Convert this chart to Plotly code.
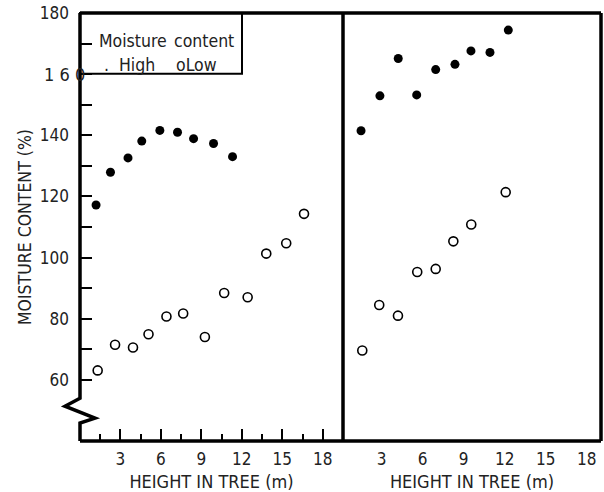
import plotly.graph_objects as go

# ---- data ----
left_high_x = [1.19, 2.26, 3.56, 4.58, 5.92, 7.23, 8.42, 9.90, 11.31]
left_high_y = [117.2, 127.9, 132.6, 138.1, 141.6, 141.0, 138.9, 137.3, 133.0]

left_low_x = [1.31, 2.60, 3.93, 5.08, 6.41, 7.65, 9.26, 10.69, 12.43, 13.81, 15.29, 16.61]
left_low_y = [63.1, 71.5, 70.6, 74.9, 80.7, 81.7, 74.0, 88.4, 87.0, 101.3, 104.7, 114.3]

right_high_x = [1.49, 2.87, 4.21, 5.56, 6.95, 8.36, 9.53, 10.92, 12.26]
right_high_y = [141.5, 152.9, 165.1, 153.2, 161.5, 163.2, 167.6, 167.1, 174.4]

right_low_x = [1.58, 2.82, 4.19, 5.60, 6.95, 8.24, 9.55, 12.07]
right_low_y = [69.6, 84.5, 81.0, 95.3, 96.3, 105.3, 110.8, 121.4]

x_tick_vals = [3, 6, 9, 12, 15, 18]
x_tick_text = ["3", "6", "9", "12", "15", "18"]
x_minor_vals = [1.5, 4.5, 7.5, 10.5, 13.5, 16.5]
y_tick_vals = [60, 70, 80, 90, 100, 110, 120, 130, 140, 150, 160, 170, 180]
y_tick_text = ["60", "", "80", "", "100", "", "120", "", "140", "", "", "", "180"]

FONT = "DejaVu Sans Condensed, Liberation Sans Narrow, Arial Narrow, sans-serif"
TXT = "#222222"

fig = go.Figure()

filled = dict(symbol="circle", size=9, color="black")
opened = dict(symbol="circle-open", size=9, color="black", line=dict(width=1.6, color="black"))

fig.add_trace(go.Scatter(x=left_high_x, y=left_high_y, mode="markers", marker=filled,
                         xaxis="x", yaxis="y", showlegend=False))
fig.add_trace(go.Scatter(x=left_low_x, y=left_low_y, mode="markers", marker=opened,
                         xaxis="x", yaxis="y", showlegend=False))
fig.add_trace(go.Scatter(x=right_high_x, y=right_high_y, mode="markers", marker=filled,
                         xaxis="x2", yaxis="y2", showlegend=False))
fig.add_trace(go.Scatter(x=right_low_x, y=right_low_y, mode="markers", marker=opened,
                         xaxis="x2", yaxis="y2", showlegend=False))

split = 263 / 521

fig.update_layout(
    width=604, height=492,
    margin=dict(l=80, r=3, t=11, b=51),
    paper_bgcolor="white", plot_bgcolor="white",
    font=dict(family=FONT, color=TXT, size=17),
    xaxis=dict(domain=[0, split], range=[0, 19.5], showgrid=False, zeroline=False,
               showline=False, tickmode="array", tickvals=x_tick_vals, ticktext=x_tick_text,
               ticks="inside", ticklen=12, tickwidth=2, tickcolor="black",
               ticklabelstandoff=6,
               minor=dict(tickmode="array", tickvals=x_minor_vals, ticks="inside",
                          ticklen=7, tickwidth=2, tickcolor="black"),
               title=dict(text="HEIGHT IN TREE (m)", font=dict(size=18, color=TXT), standoff=7)),
    xaxis2=dict(domain=[split, 1], range=[0.17, 19.04], showgrid=False, zeroline=False,
                showline=False, tickmode="array", tickvals=x_tick_vals, ticktext=x_tick_text,
                ticks="", ticklabelstandoff=6, anchor="y2",
                title=dict(text="HEIGHT IN TREE (m)", font=dict(size=18, color=TXT), standoff=7)),
    yaxis=dict(range=[40, 180], showgrid=False, zeroline=False, showline=False,
               tickmode="array", tickvals=y_tick_vals, ticktext=y_tick_text,
               ticks="inside", ticklen=12, tickwidth=2, tickcolor="black",
               ticklabelstandoff=10,
               title=dict(text="MOISTURE CONTENT (%)", font=dict(size=17.5, color=TXT), standoff=3)),
    yaxis2=dict(range=[40, 180], showgrid=False, zeroline=False, showline=False,
                showticklabels=False, ticks="", anchor="x2"),
)

# "1 6 0" label as printed in the original (spaced, overlapping the axis)
fig.add_annotation(x=-38 / 521, y=160, xref="paper", yref="y", xanchor="left", yanchor="middle",
                   text="1\u00a06\u00a00", showarrow=False, font=dict(size=18, color=TXT))

# frame lines
line_k = dict(color="black", width=3.5)
fig.add_shape(type="line", xref="paper", yref="paper", x0=0, x1=1, y0=1, y1=1, line=line_k)
fig.add_shape(type="line", xref="paper", yref="paper", x0=1, x1=1, y0=0, y1=1, line=line_k)
fig.add_shape(type="line", xref="paper", yref="paper", x0=0, x1=1, y0=0, y1=0, line=line_k)
fig.add_shape(type="line", xref="paper", yref="paper", x0=split, x1=split, y0=0, y1=1, line=line_k)
# left axis with break symbol
fig.add_shape(type="path", xref="paper", yref="paper",
              path="M 0,1 L 0,0.1 L -0.0288,0.0814 L 0.0288,0.0535 L 0,0.0419 L 0,0",
              line=line_k)

# legend box
fig.add_shape(type="rect", xref="paper", yref="paper", x0=0, x1=162 / 521, y0=369 / 430, y1=1,
              line=dict(color="black", width=2))
fig.add_annotation(x=17 / 521, y=414 / 430, xref="paper", yref="paper", xanchor="left",
                   text="Moisture", showarrow=False, font=dict(size=17.5, color=TXT))
fig.add_annotation(x=92 / 521, y=414 / 430, xref="paper", yref="paper", xanchor="left",
                   text="content", showarrow=False, font=dict(size=17.5, color=TXT))
fig.add_annotation(x=22 / 521, y=390 / 430, xref="paper", yref="paper", xanchor="left",
                   text=".\u00a0\u00a0High", showarrow=False, font=dict(size=17.5, color=TXT))
fig.add_annotation(x=94 / 521, y=390 / 430, xref="paper", yref="paper", xanchor="left",
                   text="oLow", showarrow=False, font=dict(size=17.5, color=TXT))

fig.write_html("out.html")
